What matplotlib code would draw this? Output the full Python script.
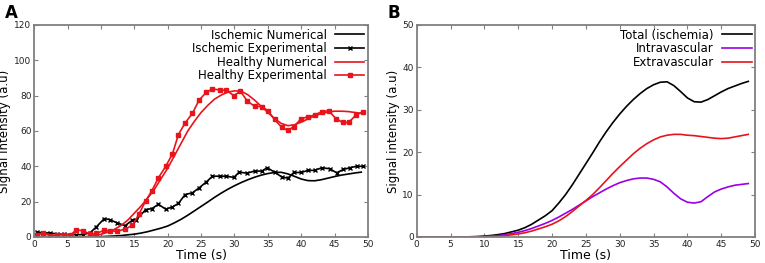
import numpy as np
import matplotlib.pyplot as plt

# time axis for the smooth (numerical) curves, 1 s steps
t_num = np.arange(0, 50)

# ischemic numerical == total (ischemia)
ischemic_num = [0, 0, 0, 0, 0, 0, 0, 0, 0.05, 0.1,
                0.2, 0.35, 0.55, 0.8, 1.2, 1.6, 2.2, 3.0, 4.0, 5.0,
                6.2, 8.0, 10.0, 12.3, 14.8, 17.3, 19.8, 22.4, 24.8, 27.0,
                29.0, 30.8, 32.4, 33.8, 35.0, 35.9, 36.5, 36.6, 35.7, 34.3,
                32.8, 31.9, 31.8, 32.4, 33.3, 34.2, 35.0, 35.6, 36.2, 36.7]

healthy_num = [0, 0, 0, 0, 0, 0, 0, 0, 0.3, 0.8,
               1.5, 2.7, 4.3, 6.5, 9.5, 13.5, 17.5, 22.0, 27.0, 33.0,
               39.0, 46.0, 53.0, 60.0, 65.5, 70.5, 74.5, 78.0, 80.3, 82.0,
               82.7, 82.5, 80.5, 77.5, 74.0, 70.5, 67.0, 64.3, 63.0, 63.5,
               65.0, 66.8, 68.5, 69.8, 70.7, 71.2, 71.2, 71.0, 70.5, 70.0]

intravascular = [0, 0, 0, 0, 0, 0, 0, 0, 0, 0.05,
                 0.1, 0.2, 0.3, 0.5, 0.8, 1.1, 1.5, 2.0, 2.6, 3.2,
                 3.9, 4.7, 5.6, 6.5, 7.5, 8.5, 9.5, 10.4, 11.3, 12.1,
                 12.8, 13.3, 13.7, 13.9, 13.9, 13.6, 13.0, 11.8, 10.3, 9.0,
                 8.2, 8.0, 8.3, 9.5, 10.6, 11.3, 11.8, 12.2, 12.4, 12.6]

extravascular = [0, 0, 0, 0, 0, 0, 0, 0, 0, 0,
                 0.05, 0.1, 0.2, 0.3, 0.5, 0.7, 1.0, 1.4, 1.9, 2.4,
                 3.0, 3.8, 4.8, 6.0, 7.3, 8.6, 10.0, 11.6, 13.3, 15.0,
                 16.6, 18.1, 19.6, 20.9, 22.0, 22.9, 23.6, 24.0, 24.2, 24.2,
                 24.0, 23.9, 23.7, 23.5, 23.3, 23.2, 23.3, 23.6, 23.9, 24.2]

# experimental samples
t_isch = [0.35, 1.35, 2.3, 3.4, 4.4, 5.5, 6.3, 7.3, 8.4, 9.3,
          10.5, 11.3, 12.4, 13.6, 14.7, 15.3, 16.7, 17.6, 18.6, 19.7,
          20.7, 21.6, 22.6, 23.7, 24.7, 25.8, 26.7, 27.8, 28.8, 29.9,
          30.7, 31.9, 33.0, 34.1, 34.9, 36.0, 37.1, 38.0, 38.9, 40.0,
          41.0, 42.0, 43.1, 44.3, 45.3, 46.3, 47.3, 48.3, 49.2]
isch_exp = [2.8, 2.3, 2.3, 1.7, 1.5, 1.3, 1.3, 1.3, 2.5, 5.7,
            10.4, 9.8, 8.0, 6.4, 9.5, 9.8, 15.5, 16.0, 18.5, 15.7,
            17.0, 19.0, 24.0, 25.0, 27.8, 31.2, 34.4, 34.4, 34.4, 33.7,
            36.7, 36.1, 37.3, 37.3, 39.2, 36.7, 33.9, 33.3, 36.5, 36.5,
            37.7, 37.7, 39.2, 38.6, 36.3, 38.2, 39.2, 40.0, 40.0]

t_heal = [0.35, 1.35, 2.3, 3.4, 4.4, 5.5, 6.3, 7.3, 8.4, 9.3,
          10.5, 11.3, 12.4, 13.6, 14.7, 15.7, 16.7, 17.6, 18.6, 19.7,
          20.7, 21.6, 22.6, 23.7, 24.7, 25.8, 26.7, 27.8, 28.8, 29.9,
          30.9, 31.9, 33.0, 34.1, 35.0, 36.0, 37.1, 38.0, 38.9, 40.0,
          41.0, 42.0, 43.1, 44.1, 45.2, 46.2, 47.1, 48.2, 49.2]
heal_exp = [1.0, 2.2, 0.8, 1.0, 1.3, 1.3, 4.0, 3.5, 1.5, 2.0,
            3.8, 3.5, 3.2, 4.5, 6.5, 13.0, 20.5, 26.0, 33.5, 40.0,
            47.0, 58.0, 64.5, 70.0, 77.5, 82.0, 83.8, 83.2, 83.0, 80.0,
            82.5, 77.0, 74.0, 73.8, 71.5, 66.5, 62.0, 60.3, 62.5, 67.0,
            68.0, 69.0, 71.0, 71.5, 67.0, 64.8, 64.8, 69.0, 70.8]

RED = '#e8141c'
PURPLE = '#9a00e6'
GRAY = '#808080'

fig = plt.figure(figsize=(7.65, 2.63), dpi=100)
axA = fig.add_axes([0.0448, 0.099, 0.4362, 0.806])
axB = fig.add_axes([0.5447, 0.099, 0.4423, 0.806])


def style(ax, ymax, ystep):
    ax.set_xlim(0, 50)
    ax.set_ylim(0, ymax)
    ax.set_xticks(np.arange(0, 51, 5))
    ax.set_yticks(np.arange(0, ymax + 1, ystep))
    for s in ax.spines.values():
        s.set_color(GRAY)
        s.set_linewidth(1.3)
    ax.tick_params(direction='in', length=3, width=0.8, color=GRAY,
                   labelsize=6.5, labelcolor='#222222', pad=2,
                   top=True, right=True)
    ax.set_xlabel('Time (s)', fontsize=9, labelpad=0)
    ax.set_ylabel('Signal intensity (a.u)', fontsize=8.5, labelpad=2)


def legend(ax):
    ax.legend(loc='upper right', frameon=False, markerfirst=False,
              fontsize=8.5, handlelength=2.5, labelspacing=0.05,
              borderaxespad=0.1, borderpad=0.2, handletextpad=0.7)


axA.plot(t_num, ischemic_num, color='black', lw=1.2, label='Ischemic Numerical')
axA.plot(t_isch, isch_exp, color='black', lw=1.2, marker='x', ms=2.5, mew=1,
         label='Ischemic Experimental')
axA.plot(t_num, healthy_num, color=RED, lw=1.2, label='Healthy Numerical')
axA.plot(t_heal, heal_exp, color=RED, lw=1.2, marker='s', ms=2.5,
         label='Healthy Experimental')
style(axA, 120, 20)
legend(axA)

axB.plot(t_num, ischemic_num, color='black', lw=1.2, label='Total (ischemia)')
axB.plot(t_num, intravascular, color=PURPLE, lw=1.2, label='Intravascular')
axB.plot(t_num, extravascular, color=RED, lw=1.2, label='Extravascular')
style(axB, 50, 10)
legend(axB)

fig.text(0.006, 0.985, 'A', fontsize=12, fontweight='bold', va='top')
fig.text(0.507, 0.985, 'B', fontsize=12, fontweight='bold', va='top')

fig.savefig('out.png', dpi=100)
